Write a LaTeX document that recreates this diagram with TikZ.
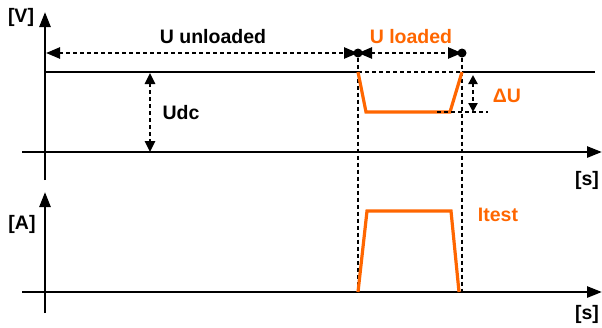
\documentclass[tikz,border=0pt]{standalone}
\usepackage{fontspec}
\setmainfont{Liberation Sans}
\usetikzlibrary{arrows.meta}
\definecolor{korange}{RGB}{255,102,0}

\tikzset{
    axis/.style={line width=2.6pt, -{Triangle[length=15pt,width=11pt]}},
    level/.style={line width=2.6pt},
    guide/.style={line width=2.5pt, dash pattern=on 4pt off 3pt},
    span/.style={guide, {Triangle[length=14pt,width=11pt]}-{Triangle[length=14pt,width=11pt]}},
    small span/.style={guide, {Triangle[length=11pt,width=10pt]}-{Triangle[length=11pt,width=10pt]}},
    signal/.style={line width=3.2pt, korange, line join=miter},
    lbl/.style={font=\fontsize{19.5}{22}\selectfont\bfseries, inner sep=0pt},
    dot/.style={circle, fill, inner sep=0pt, minimum size=9pt}
}

\begin{document}
\begin{tikzpicture}[x=1pt, y=-1pt]
        \useasboundingbox (0,0) rectangle (602,327);

        % voltage axes
        \coordinate (vo) at (45,180);
        \coordinate (vtop) at (45,12);
        \coordinate (vx0) at (22,152);
        \coordinate (vx1) at (602,152);
        \draw[axis] (vo) -- (vtop);
        \draw[axis] (vx0) -- (vx1);
        \node[lbl] (vunit) at (21,17) {[V]};
        \node[lbl] (vtime) at (587,180) {[s]};

        % current axes
        \coordinate (ao) at (45,313);
        \coordinate (atop) at (45,192);
        \coordinate (ax0) at (22,292);
        \coordinate (ax1) at (602,292);
        \draw[axis] (ao) -- (atop);
        \draw[axis] (ax0) -- (ax1);
        \node[lbl] (aunit) at (22,224) {[A]};
        \node[lbl] (atime) at (587,314) {[s]};

        % dc level
        \coordinate (dcl) at (45,72);
        \coordinate (on) at (358,72);
        \coordinate (off) at (462,72);
        \coordinate (dcr) at (595,72);
        \draw[level] (dcl) -- (on);
        \draw[level] (off) -- (dcr);
        \draw[guide] (on) -- (off);

        % Udc
        \coordinate (udctop) at (150,73);
        \coordinate (udcbot) at (150,152);
        \draw[small span] (udctop) -- (udcbot);
        \node[lbl] (udc) at (181,113) {Udc};

        % time markers
        \node[dot] (m1) at (358,53) {};
        \node[dot] (m2) at (462,53) {};
        \coordinate (m1low) at (358,292);
        \coordinate (m2low) at (462,292);
        \draw[guide] (m1) -- (m1low);
        \draw[guide] (m2) -- (m2low);
        \coordinate (ustart) at (46,53);
        \draw[span] (ustart) -- (m1.center);
        \draw[span] (m1.center) -- (m2.center);
        \node[lbl] (unl) at (213,37) {U unloaded};
        \node[lbl, korange] (ul) at (411,37) {U loaded};

        % loaded voltage
        \coordinate (dipl) at (366,112);
        \coordinate (dipr) at (450,112);
        \draw[signal] (on) -- (dipl) -- (dipr) -- (off);
        \coordinate (dul) at (437,112);
        \coordinate (dur) at (488,112);
        \draw[guide] (dul) -- (dur);
        \coordinate (dutop) at (473,75);
        \coordinate (dubot) at (473,112);
        \draw[guide, {Triangle[length=9pt,width=9pt]}-{Triangle[length=9pt,width=9pt]}] (dutop) -- (dubot);
        \node[lbl, korange] (du) at (507,96) {ΔU};

        % test current
        \coordinate (ion) at (358,292);
        \coordinate (iup) at (367,211);
        \coordinate (idown) at (451,211);
        \coordinate (ioff) at (459,292);
        \draw[signal] (ion) -- (iup) -- (idown) -- (ioff);
        \node[lbl, korange] (itest) at (498,215) {Itest};
\end{tikzpicture}
\end{document}
